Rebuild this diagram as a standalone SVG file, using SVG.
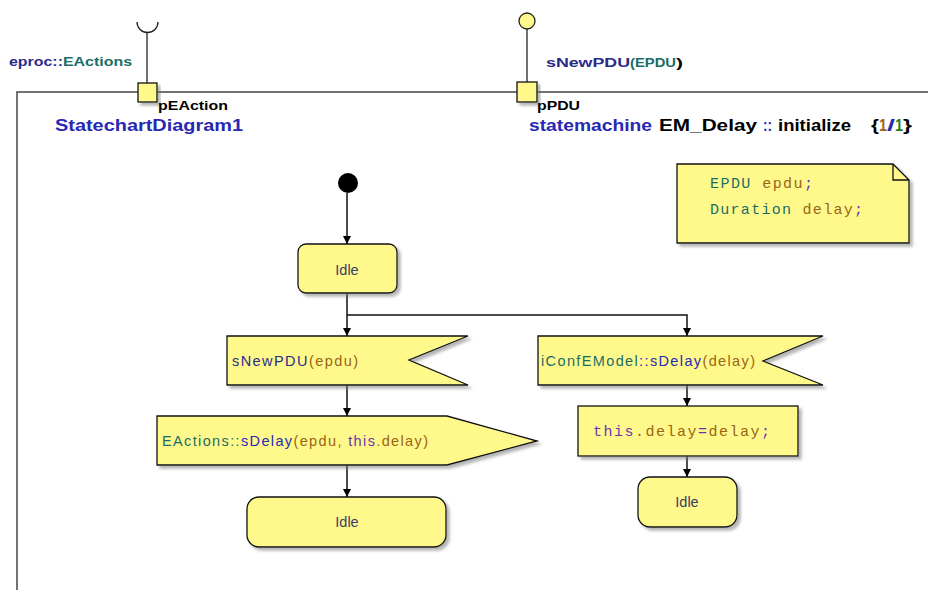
<svg xmlns="http://www.w3.org/2000/svg" width="928" height="590" viewBox="0 0 928 590">
<defs>
<filter id="sh" x="-10%" y="-10%" width="130%" height="140%">
<feDropShadow dx="3" dy="3" stdDeviation="1.5" flood-color="#777" flood-opacity="0.55"/>
</filter>
<marker id="ah" viewBox="0 0 10 10" refX="10" refY="5" markerWidth="8" markerHeight="8" markerUnits="userSpaceOnUse" orient="auto">
<path d="M0,0 L10,5 L0,10 z" fill="#000"/>
</marker>
<style>
.box{fill:#fff98c;stroke:#111;stroke-width:1.3;filter:url(#sh)}
.t{font-family:"Liberation Sans",Arial,sans-serif;font-size:14.5px}
.m{font-family:"Liberation Mono","Courier New",monospace;font-size:15px}
.h{font-family:"Liberation Sans",Arial,sans-serif;font-weight:bold}
.c{fill:none;stroke:#111;stroke-width:1.5}
.navy{fill:#2a2a8a}
.blue{fill:#2828b4}
.teal{fill:#1a6e66}
.brown{fill:#9a6414}
.purple{fill:#6a34b0}
.idle{fill:#3c3c64}
</style>
</defs>

<g id="frame">
<path d="M17,590 L17,92 L928,92" fill="none" stroke="#444" stroke-width="1.5"/>
</g>

<g id="port-pEAction">
<path d="M137,22 A10.5,10.5 0 0 0 158,22" fill="none" stroke="#222" stroke-width="1.3"/>
<line x1="147" y1="32" x2="147" y2="83" stroke="#222" stroke-width="1.3"/>
<rect x="138" y="83" width="19" height="19" class="box"/>
<text x="9" y="66" class="h" font-size="12" textLength="123" lengthAdjust="spacingAndGlyphs"><tspan class="navy">eproc::</tspan><tspan class="teal">EActions</tspan></text>
<text x="158" y="110" class="h" font-size="12" fill="#000" textLength="70" lengthAdjust="spacingAndGlyphs">pEAction</text>
</g>

<g id="port-pPDU">
<circle cx="527" cy="21" r="8" fill="#fff98c" stroke="#222" stroke-width="1.3"/>
<line x1="527" y1="29" x2="527" y2="82" stroke="#222" stroke-width="1.3"/>
<rect x="517" y="82" width="20" height="20" class="box"/>
<text x="546" y="67" class="h" font-size="12"><tspan class="navy" x="546" textLength="84" lengthAdjust="spacingAndGlyphs">sNewPDU</tspan><tspan class="teal" x="630" textLength="46" lengthAdjust="spacingAndGlyphs">(EPDU</tspan><tspan fill="#000" x="676" textLength="7" lengthAdjust="spacingAndGlyphs">)</tspan></text>
<text x="537" y="110" class="h" font-size="12" fill="#000" textLength="43" lengthAdjust="spacingAndGlyphs">pPDU</text>
</g>

<g id="title">
<text x="55" y="131" class="h blue" font-size="17" textLength="188" lengthAdjust="spacingAndGlyphs">StatechartDiagram1</text>
<text y="131" class="h" font-size="17">
<tspan class="blue" x="529" textLength="123" lengthAdjust="spacingAndGlyphs">statemachine</tspan>
<tspan fill="#000" x="659" textLength="98" lengthAdjust="spacingAndGlyphs">EM_Delay</tspan>
<tspan class="blue" x="763" textLength="9" lengthAdjust="spacingAndGlyphs">::</tspan>
<tspan fill="#000" x="778" textLength="73" lengthAdjust="spacingAndGlyphs">initialize</tspan>
<tspan fill="#000" x="871" textLength="8" lengthAdjust="spacingAndGlyphs">{</tspan><tspan fill="#a06010" x="879" textLength="8" lengthAdjust="spacingAndGlyphs">1</tspan><tspan fill="#2828b4" x="887" textLength="8" lengthAdjust="spacingAndGlyphs">/</tspan><tspan fill="#208020" x="895" textLength="8" lengthAdjust="spacingAndGlyphs">1</tspan><tspan fill="#000" x="903" textLength="9" lengthAdjust="spacingAndGlyphs">}</tspan>
</text>
</g>

<g id="note">
<path d="M677,164 L893,164 L909,180 L909,243 L677,243 Z" class="box"/>
<path d="M893,164 L893,180 L909,180" fill="none" stroke="#111" stroke-width="1.3"/>
<text x="710" y="188" class="m" textLength="103" lengthAdjust="spacing"><tspan class="teal">EPDU</tspan> <tspan class="brown">epdu</tspan><tspan class="purple">;</tspan></text>
<text x="710" y="214" class="m" textLength="153" lengthAdjust="spacing"><tspan class="teal">Duration</tspan> <tspan class="brown">delay</tspan><tspan class="purple">;</tspan></text>
</g>

<g id="connectors">
<line x1="347" y1="193" x2="347" y2="244" class="c" marker-end="url(#ah)"/>
<line x1="347" y1="293" x2="347" y2="336" class="c" marker-end="url(#ah)"/>
<polyline points="347,315 687,315 687,336" class="c" marker-end="url(#ah)"/>
<line x1="347" y1="385" x2="347" y2="416" class="c" marker-end="url(#ah)"/>
<line x1="347" y1="465" x2="347" y2="497" class="c" marker-end="url(#ah)"/>
<line x1="687" y1="385" x2="687" y2="406" class="c" marker-end="url(#ah)"/>
<line x1="687" y1="456" x2="687" y2="477" class="c" marker-end="url(#ah)"/>
</g>

<g id="initial">
<circle cx="348" cy="183" r="10" fill="#000"/>
</g>

<g id="idle1">
<rect x="298" y="244" width="99" height="49" rx="8" class="box"/>
<text x="347" y="275" class="t idle" text-anchor="middle">Idle</text>
</g>

<g id="sNewPDU">
<path d="M227,336 L468,336 L409,360 L468,385 L227,385 Z" class="box"/>
<text x="232" y="366" class="t" textLength="126" lengthAdjust="spacing"><tspan class="navy">sNewPDU</tspan><tspan class="brown">(epdu)</tspan></text>
</g>

<g id="sendDelay">
<path d="M157,416 L447,416 L537,441 L447,465 L157,465 Z" class="box"/>
<text x="162" y="446" class="t" textLength="266" lengthAdjust="spacing"><tspan class="teal">EActions::</tspan><tspan class="blue">sDelay</tspan><tspan class="brown">(epdu, </tspan><tspan class="purple">this</tspan><tspan class="brown">.delay)</tspan></text>
</g>

<g id="idle3">
<rect x="247" y="497" width="199" height="50" rx="12" class="box"/>
<text x="347" y="527" class="t idle" text-anchor="middle">Idle</text>
</g>

<g id="iConfDelay">
<path d="M538,336 L823,336 L763,361 L823,385 L538,385 Z" class="box"/>
<text x="541" y="366" class="t" textLength="214" lengthAdjust="spacing"><tspan class="teal">iConfEModel</tspan><tspan class="blue">::sDelay</tspan><tspan class="brown">(delay)</tspan></text>
</g>

<g id="assign">
<rect x="578" y="406" width="220" height="50" class="box"/>
<text x="593" y="436" class="m" textLength="177" lengthAdjust="spacing"><tspan class="purple">this</tspan><tspan class="brown">.delay</tspan><tspan class="purple">=</tspan><tspan class="brown">delay</tspan><tspan class="purple">;</tspan></text>
</g>

<g id="idle2">
<rect x="638" y="477" width="99" height="50" rx="12" class="box"/>
<text x="687" y="507" class="t idle" text-anchor="middle">Idle</text>
</g>
</svg>
